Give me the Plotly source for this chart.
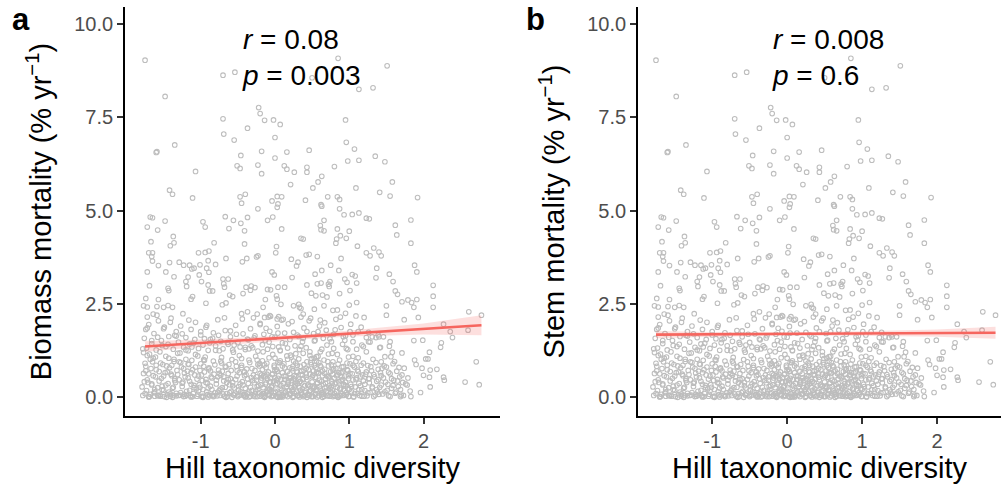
import plotly.graph_objects as go

# ---------------- data ----------------
# sparse upper cloud (same plots in both panels)
hill_upper = [-1.75,-1.48,-0.70,-0.54,-0.22,-0.20,-0.70,-0.37,-0.14,-0.02,0.07,-0.69,-0.55,0.00,-1.35,-1.60,-1.59,
              -0.46,-0.18,0.16,0.00,0.46,-1.07,-0.51,-0.47,-0.23,-0.18,0.125,0.16,0.26,0.43,0.43,0.21,-1.42,-1.38,
              -1.11,-0.47,-0.40,-0.45,-0.23,-0.04,0.03,0.09,0.04,0.03,0.41,
              0.85,1.51,0.50,1.13,1.32,0.95,0.96,1.07,0.98,1.13,1.35,1.48,0.80,0.63,0.58,0.51,1.58,1.09,0.71,0.84,
              0.87,1.41,1.55,1.92,0.62,0.87,
              0.63,0.93,1.04,1.13,1.23,1.27,1.83,0.66,0.61,0.62,0.66,0.84,1.00,0.88,0.83,0.82,0.96,1.62,1.64,1.83,
              1.11,1.33,1.40,1.43,1.23,1.28,0.57,0.89,0.75,0.63,0.86,0.54,1.37,1.36,1.54,1.59,1.88,1.91,0.94,1.04,
              1.08,0.97,1.10,0.57,0.62,0.74,0.72,0.73,0.49,0.55,0.64,0.70,0.87,1.01,1.10,1.62,1.65,1.71,1.79,1.84,
              1.91,1.87,2.13,2.13,2.13,1.50,1.50,1.20,1.74,1.93,2.61,2.78,
              -1.68,-1.65,-1.48,-1.72,-1.58,-1.37,-1.36,-1.41,-1.67,-1.70,-1.65,-1.66,-1.65,-1.57,-1.72,-1.42,-1.29,
              -1.23,-1.15,-1.12,-1.47,-1.36,-1.69,-1.44,-1.43,-1.74,-1.57,-1.77,-1.72,-1.59,-1.50,-1.44,-1.38,-1.72,
              -1.64,-1.59,-1.24,-1.19,-1.20,-1.17,-1.11,-1.13,-0.93,-1.09,-1.01,-1.03,-0.94,-0.89,-0.97,-0.94,-0.82,
              -0.67,-0.56,-0.46,-0.41,-0.37,-0.62,-0.10,-0.03,0.09,-0.41,0.02,0.01,-0.90,-0.92,-0.80,-0.66,-0.44,
              -0.38,-0.25,-0.23,-1.02,-0.99,-0.89,-0.70,-0.63,-0.69,-0.68,-0.90,-0.88,-0.84,-0.61,-0.57,-0.43,-0.39,
              -0.32,-0.33,-0.27,-0.71,-0.66,-0.45,-0.37,-0.14,-0.07,-0.06,0.02,0.03,0.08,-0.13,-0.10,-0.04,-0.01,
              0.04,0.13,0.22,0.31,0.29,0.23,0.25,0.32,0.43,0.35,0.38,0.42,0.46,-0.16,-0.06,-0.09,-0.24,-0.29,0.03,
              0.05,0.09,0.33,0.35,
              0.35,0.38,0.48,0.53,0.66,0.78,0.84,0.82,0.95,1.00,0.61]
mort_upper = [9.03,8.06,8.63,8.71,7.76,7.60,7.46,7.21,7.42,7.43,7.31,7.05,6.89,6.96,6.76,6.56,6.58,
              6.48,6.59,6.57,6.41,6.62,6.05,6.20,6.13,6.22,5.99,6.20,6.11,6.03,6.16,6.03,5.70,5.55,5.44,
              5.34,5.37,5.44,5.20,5.05,5.26,5.38,5.37,5.18,5.09,5.28,
              9.08,8.88,8.56,8.25,8.29,7.43,6.83,6.65,6.33,6.35,6.46,6.31,6.18,5.92,5.77,5.61,5.77,5.61,5.37,5.37,
              5.30,5.49,5.39,5.35,5.16,5.05,
              5.12,4.89,4.90,4.94,4.80,4.78,4.75,4.74,4.60,4.49,4.46,4.51,4.45,4.33,4.24,4.13,4.26,4.61,4.35,4.13,
              4.05,4.00,3.89,3.79,3.87,3.79,3.77,3.72,3.54,3.40,3.40,3.30,3.46,3.20,3.30,3.10,3.54,3.36,3.17,3.29,
              3.25,3.08,3.06,3.04,3.06,3.10,3.03,2.97,2.79,2.72,2.74,2.69,2.78,2.86,2.54,2.85,2.76,2.56,2.61,2.54,
              2.62,2.41,3.00,2.71,2.41,2.45,2.20,2.14,2.08,2.14,2.29,2.20,
              4.83,4.81,4.72,4.56,4.48,4.31,4.14,4.06,4.17,3.87,3.87,3.77,3.65,3.53,3.36,3.61,3.62,
              3.54,3.54,3.44,3.36,3.23,2.99,2.92,2.86,2.65,2.62,2.45,2.42,2.43,2.41,2.46,2.41,2.15,
              2.23,2.20,2.24,2.97,3.10,3.22,2.70,2.63,2.52,3.46,3.55,3.87,3.88,3.92,4.70,4.56,4.14,
              4.84,4.74,4.66,4.46,4.82,4.52,4.74,4.83,4.51,4.11,4.04,3.87,3.66,3.46,3.56,3.72,3.63,
              3.72,3.76,3.79,3.28,3.10,3.35,3.17,3.17,3.04,2.95,3.01,2.85,2.85,2.74,2.70,2.78,2.95,
              2.98,2.87,2.94,2.48,2.53,2.24,2.29,2.14,2.19,2.88,2.72,2.63,2.49,2.62,2.89,3.36,3.28,
              2.95,2.95,3.70,3.62,3.52,3.21,2.45,2.49,3.01,4.26,4.24,3.81,3.83,2.41,2.17,2.15,2.23,2.13,2.10,
              2.16,2.07,2.41,2.15,
              2.38,2.23,2.12,2.36,2.45,2.33,2.34,2.09,2.25,2.47,2.07]

# scattered right-hand points at low mortality
hill_right = [2.27,2.36,2.39,2.60,2.24,2.23,1.99,1.87,2.08,2.06,2.03,1.88,1.90,1.98,2.09,2.18,2.00,2.08,2.27,2.28,
              2.71,2.56,2.75,2.09,1.96,1.69,1.83,1.78,1.71,1.58,1.56,1.48,1.43,1.55,1.28,1.42,1.54,1.36,1.46,1.40]
mort_right = [1.96,1.76,1.60,1.80,1.46,1.34,1.53,1.52,1.21,1.03,1.03,1.00,0.88,0.78,0.73,0.75,0.59,0.54,0.54,0.46,
              0.95,0.41,0.34,0.28,0.13,0.02,0.02,0.33,1.19,1.21,1.09,1.09,0.95,1.49,1.48,1.34,1.37,1.60,1.62,1.62]

# middle band (about 1.2 - 2.2)
hill_mid = [-1.76,-1.73,-1.70,-1.66,-1.63,-1.60,-1.57,-1.53,-1.50,-1.47,-1.43,-1.40,-1.37,-1.33,-1.30,-1.27,-1.23,
            -1.20,-1.17,-1.13,-1.10,-1.07,-1.03,-1.00,-0.97,-0.93,-0.90,-0.87,-0.83,-0.80,-0.77,-0.73,-0.70,-0.67,
            -0.63,-0.60,-0.57,-0.53,-0.50,-0.47,-0.43,-0.40,-0.37,-0.33,-0.30,-0.27,-0.23,-0.20,-0.17,-0.13,-0.10,
            -0.07,-0.03,0.00,0.03,0.07,0.10,0.13,0.17,0.20,0.23,0.27,0.30,0.33,0.37,-1.72,-1.55,-1.35,-1.15,-0.95,
            -0.75,-0.55,-0.35,-0.15,0.05,
            0.43,0.52,0.58,0.69,0.79,0.89,0.92,1.01,1.05,1.12,1.26,1.31,1.39,1.26,1.17,1.05,0.94,0.76,0.65,0.54,
            0.38,0.47,0.61,0.79,0.96,1.10,1.23,1.41,
            -1.78,-1.61,-1.44,-1.28,-1.12,-0.96,-0.80,-0.64,-0.48,-0.32,-0.16,0.00,0.14,0.28,0.42,0.56,0.70,0.84,0.98,1.12,
            -1.69,-1.52,-1.36,-1.20,-1.04,-0.88,-0.72,-0.56,-0.40,-0.24,-0.08,0.07,0.21,0.35,0.49,0.63,0.77,0.91,1.05,1.19,
            -1.74,-1.58,-1.41,-1.25,-1.08,-0.92,-0.76,-0.60,-0.44,-0.28,-0.12,0.04,0.18,0.32,0.46,0.60,0.74,0.88,1.02,1.16,
            -1.66,-1.49,-1.33,-1.16,-1.00,-0.84,-0.68,-0.52,-0.36,-0.20,-0.04,0.11,0.25,0.39,0.53,0.67,0.81,0.95,1.09,1.23]
mort_mid = [1.58,1.32,1.95,1.44,1.71,1.27,2.05,1.52,1.84,1.36,1.63,2.12,1.29,1.76,1.48,1.91,1.34,
            1.60,1.25,1.82,1.45,2.01,1.31,1.67,1.40,1.88,1.26,1.55,1.73,1.38,2.08,1.50,1.30,1.79,
            1.42,1.62,1.27,1.93,1.47,1.35,1.70,1.28,1.56,1.84,1.33,1.65,1.24,1.98,1.41,1.52,1.29,
            1.77,1.36,1.61,1.90,1.26,1.46,1.72,1.32,1.55,2.03,1.38,1.67,1.28,1.49,1.86,1.22,1.66,1.43,1.57,
            1.25,1.40,1.30,1.69,1.35,
            1.76,1.71,1.76,1.80,1.69,1.87,1.62,1.76,1.67,1.76,1.74,1.62,1.67,1.49,1.40,1.49,1.53,1.49,1.58,1.53,
            1.58,1.22,1.22,1.31,1.31,1.29,1.22,1.33,
            1.30,1.08,1.42,1.19,1.35,1.01,1.26,1.47,1.12,1.38,1.22,1.05,1.44,1.17,1.33,1.09,1.40,1.15,1.28,1.06,
            1.16,1.39,1.02,1.27,1.11,1.46,1.07,1.21,1.34,1.00,1.48,1.25,1.13,1.37,1.04,1.29,1.18,1.42,1.10,1.36,
            1.82,1.61,2.01,1.70,1.55,1.93,1.66,1.78,2.10,1.59,1.85,1.72,1.97,1.63,2.05,1.91,1.57,2.15,1.96,1.88,
            1.52,1.88,1.64,2.07,1.76,1.58,2.13,1.69,1.54,1.95,1.62,2.09,1.74,1.86,1.51,2.00,1.81,1.65,2.18,1.60]

# dense lower cloud (below about 1.2)
hill_low = [-1.78,-1.76,-1.75,-1.73,-1.72,-1.70,-1.69,-1.67,-1.66,-1.64,-1.63,-1.61,-1.60,-1.58,-1.57,-1.56,-1.77,-1.74,-1.71,-1.68,-1.65,-1.62,
            -1.54,-1.53,-1.51,-1.50,-1.48,-1.47,-1.45,-1.44,-1.42,-1.41,-1.39,-1.38,-1.36,-1.35,-1.33,-1.32,-1.31,-1.52,-1.49,-1.46,-1.43,-1.40,-1.37,-1.34,
            -1.29,-1.28,-1.26,-1.25,-1.23,-1.22,-1.20,-1.19,-1.17,-1.16,-1.14,-1.13,-1.11,-1.10,-1.08,-1.07,-1.06,-1.27,-1.24,-1.21,-1.18,-1.15,-1.12,-1.09,
            -1.04,-1.03,-1.01,-1.00,-0.98,-0.97,-0.95,-0.94,-0.92,-0.91,-0.89,-0.88,-0.86,-0.85,-0.83,-0.82,-0.81,-1.02,-0.99,-0.96,-0.93,-0.90,-0.87,-0.84,
            -0.79,-0.78,-0.76,-0.75,-0.73,-0.72,-0.70,-0.69,-0.67,-0.66,-0.64,-0.63,-0.61,-0.60,-0.58,-0.57,-0.56,-0.77,-0.74,-0.71,-0.68,-0.65,-0.62,-0.59,
            -0.54,-0.53,-0.52,-0.50,-0.49,-0.48,-0.46,-0.45,-0.44,-0.42,-0.41,-0.40,-0.38,-0.37,-0.36,-0.34,-0.33,-0.32,-0.31,-0.51,-0.47,-0.43,-0.39,-0.35,-0.30,-0.55,-0.45,-0.40,
            -0.29,-0.28,-0.27,-0.26,-0.25,-0.24,-0.23,-0.22,-0.21,-0.20,-0.19,-0.18,-0.17,-0.16,-0.15,-0.14,-0.13,-0.12,-0.11,-0.10,-0.09,-0.08,-0.07,-0.06,-0.26,-0.21,-0.16,-0.11,-0.24,-0.18,
            -0.05,-0.04,-0.03,-0.02,-0.01,0.00,0.01,0.02,0.03,0.04,0.05,0.06,0.07,0.08,0.09,0.10,0.11,0.12,0.13,0.14,0.15,0.16,0.17,0.18,0.19,0.20,-0.03,0.02,0.07,0.12,0.17,0.00,
            0.21,0.22,0.23,0.24,0.25,0.26,0.27,0.28,0.29,0.30,0.31,0.32,0.33,0.34,0.35,0.36,0.37,0.38,0.39,0.40,0.41,0.42,0.43,0.44,0.22,0.26,0.30,0.34,0.38,0.42,0.25,0.33,
            0.45,0.46,0.47,0.48,0.49,0.50,0.51,0.52,0.53,0.54,0.55,0.56,0.57,0.58,0.59,0.60,0.61,0.62,0.63,0.64,0.65,0.66,0.67,0.68,0.69,0.47,0.51,0.55,0.59,0.63,0.67,0.53,
            0.70,0.71,0.72,0.73,0.74,0.75,0.76,0.77,0.78,0.79,0.80,0.81,0.82,0.83,0.84,0.85,0.86,0.87,0.88,0.89,0.90,0.91,0.92,0.93,0.94,0.72,0.78,0.84,0.90,0.76,
            0.95,0.96,0.97,0.98,0.99,1.00,1.01,1.02,1.03,1.04,1.05,1.06,1.07,1.08,1.10,1.11,1.12,1.13,1.14,1.16,1.17,1.18,1.19,0.99,1.09,1.15,
            1.21,1.22,1.24,1.25,1.27,1.28,1.30,1.31,1.33,1.34,1.36,1.37,1.39,1.40,1.42,1.43,1.44,1.26,1.32,1.38,
            1.46,1.48,1.50,1.52,1.53,1.55,1.57,1.59,1.60,1.62,1.64,1.66,1.68,1.70,1.72,1.74]
mort_low = [0.05,0.42,0.91,0.18,1.12,0.63,0.02,0.77,0.33,1.05,0.12,0.55,0.86,0.26,0.04,0.69,1.20,0.71,0.40,0.08,0.95,0.21,
            0.03,0.51,0.88,0.19,0.66,1.10,0.07,0.37,0.79,0.03,0.58,0.24,0.96,0.45,0.11,0.72,1.18,0.30,0.02,0.84,0.14,0.62,0.05,0.40,
            0.47,0.06,0.81,0.29,0.02,0.65,1.02,0.16,0.52,0.88,0.04,0.35,0.74,0.10,0.60,1.15,0.23,0.93,0.41,0.03,0.70,0.19,0.99,0.32,
            0.08,0.57,0.27,0.90,0.45,0.03,0.68,1.08,0.15,0.38,0.79,0.05,0.55,0.21,0.97,0.62,0.12,0.34,0.02,0.83,0.48,0.25,0.71,0.06,
            0.36,0.04,0.73,0.18,0.59,0.92,0.09,0.44,0.27,0.81,0.02,0.64,0.13,0.50,1.01,0.31,0.07,0.55,0.22,0.70,0.03,0.40,0.88,0.16,
            0.11,0.48,0.83,0.02,0.29,0.66,0.15,1.04,0.42,0.05,0.58,0.24,0.76,0.09,0.37,0.93,0.03,0.53,0.19,0.71,0.06,0.33,0.61,0.14,0.45,0.25,0.80,0.01,
            0.04,0.39,0.72,0.17,0.55,0.02,0.88,0.31,0.12,0.64,0.46,0.07,0.98,0.26,0.58,0.03,0.35,0.80,0.14,0.49,0.68,0.05,0.22,0.41,1.10,0.84,0.10,0.62,0.29,0.52,
            0.27,0.61,0.05,0.43,0.86,0.16,0.34,0.02,0.70,0.51,0.09,0.93,0.24,0.47,0.03,0.66,0.38,0.12,0.79,0.56,0.06,0.29,1.02,0.44,0.18,0.63,1.15,0.75,0.01,0.90,0.35,0.52,
            0.08,0.45,0.77,0.21,0.03,0.58,0.36,0.92,0.14,0.67,0.04,0.49,0.26,0.83,0.11,0.39,0.60,0.02,0.73,0.31,0.17,0.54,0.95,0.07,1.08,0.28,0.86,0.43,1.18,0.63,0.50,0.01,
            0.33,0.05,0.62,0.19,0.88,0.41,0.02,0.71,0.27,0.54,0.10,0.97,0.37,0.64,0.04,0.46,0.22,0.81,0.13,0.58,0.35,0.03,0.75,0.49,0.16,1.12,0.30,0.79,0.93,0.07,0.25,1.05,
            0.57,0.12,0.84,0.31,0.03,0.69,0.44,0.20,0.95,0.06,0.52,0.36,0.77,0.15,0.61,0.02,0.42,1.00,0.25,0.66,0.09,0.48,0.82,0.34,0.18,1.16,0.73,0.05,0.55,0.28,
            0.41,0.07,0.74,0.23,0.58,0.03,0.90,0.35,0.15,0.63,0.47,0.02,0.81,0.28,0.52,0.11,0.69,0.38,0.05,0.86,0.21,0.60,0.44,1.08,0.96,0.31,
            0.18,0.62,0.04,0.85,0.39,0.13,0.71,0.28,0.02,0.55,0.93,0.21,0.47,0.08,0.66,0.33,0.78,0.50,1.02,0.14,
            0.52,0.15,0.81,0.35,0.04,0.63,0.24,0.90,0.46,0.11,0.70,0.29,0.55,0.06,0.40,0.78]

# more of the dense lower cloud
hill_low2 = [-1.79,-1.77,-1.75,-1.74,-1.72,-1.70,-1.68,-1.66,-1.64,-1.62,-1.60,-1.58,-1.56,-1.54,-1.52,-1.50,-1.47,-1.45,-1.43,-1.41,
             -1.39,-1.37,-1.35,-1.33,-1.31,-1.29,-1.27,-1.25,-1.23,-1.21,-1.19,-1.17,-1.15,-1.13,-1.11,-1.09,-1.07,-1.05,-1.03,-1.01,
             -0.99,-0.97,-0.95,-0.93,-0.91,-0.89,-0.87,-0.85,-0.83,-0.81,-0.79,-0.77,-0.75,-0.73,-0.71,-0.69,-0.67,-0.65,-0.63,-0.61,
             -0.59,-0.57,-0.55,-0.53,-0.51,-0.49,-0.47,-0.45,-0.43,-0.41,-0.39,-0.37,-0.35,-0.33,-0.31,-0.29,-0.27,-0.25,-0.23,-0.21,
             -0.19,-0.17,-0.15,-0.13,-0.11,-0.09,-0.07,-0.05,-0.03,-0.01,0.01,0.03,0.05,0.07,0.09,0.11,0.13,0.15,0.17,0.19,
             -0.18,-0.16,-0.14,-0.12,-0.10,-0.08,-0.06,-0.04,-0.02,0.00,0.02,0.04,0.06,0.08,0.10,0.12,0.14,0.16,0.18,0.20,
             0.21,0.23,0.25,0.27,0.29,0.31,0.33,0.35,0.37,0.39,0.41,0.43,0.45,0.47,0.49,0.51,0.53,0.55,0.57,0.59,
             0.22,0.24,0.26,0.28,0.30,0.32,0.34,0.36,0.38,0.40,0.42,0.44,0.46,0.48,0.50,0.52,0.54,0.56,0.58,0.60,
             0.61,0.63,0.65,0.67,0.69,0.71,0.73,0.75,0.77,0.79,0.81,0.83,0.85,0.87,0.89,0.91,0.93,0.95,0.97,0.99,
             0.62,0.64,0.66,0.68,0.70,0.72,0.74,0.76,0.78,0.80,0.82,0.84,0.86,0.88,0.90,0.92,0.94,0.96,0.98,1.00,
             1.01,1.03,1.05,1.07,1.09,1.11,1.13,1.15,1.17,1.19,1.21,1.23,1.25,1.27,1.29,1.31,1.33,1.35,1.37,1.39,
             1.41,1.43,1.45,1.47,1.49,1.51,1.53,1.55,1.57,1.59,1.61,1.63,1.65,1.67,1.69,1.71,1.73,1.76,1.79,1.82,
             -1.70,-1.55,-1.38,-1.22,-1.05,-0.90,-0.74,-0.58,-0.42,-0.27,-0.14,-0.02,0.10,0.24,0.36,0.50,0.64,0.78,0.92,1.06,
             -1.62,-1.46,-1.30,-1.13,-0.97,-0.82,-0.66,-0.50,-0.35,-0.20,-0.08,0.04,0.17,0.30,0.43,0.57,0.71,0.85,0.99,1.20]
mort_low2 = [0.28,0.64,0.10,0.83,0.47,0.02,1.02,0.36,0.58,0.15,0.74,0.05,0.44,0.92,0.20,0.57,0.33,0.68,1.05,0.09,
             0.86,0.27,0.50,0.04,0.61,0.95,0.13,0.38,0.77,0.55,0.06,0.89,0.43,0.66,0.02,0.26,0.81,0.49,0.17,0.72,
             0.60,0.21,0.99,0.40,0.07,0.76,0.30,0.52,0.02,0.87,0.46,0.14,0.64,0.97,0.26,0.55,0.83,0.10,0.48,0.34,
             0.72,0.40,0.06,0.95,0.57,0.20,0.36,0.86,0.12,0.68,0.03,0.50,1.00,0.27,0.77,0.60,0.09,0.46,0.21,0.91,
             0.33,0.74,0.10,0.55,0.91,0.22,0.42,0.02,0.63,0.81,0.13,0.37,0.58,0.98,0.19,0.06,0.48,0.27,0.69,0.09,
             0.60,0.04,0.87,0.39,0.17,1.06,0.53,0.30,0.12,0.72,0.46,0.93,0.03,0.32,0.84,0.57,0.14,1.11,0.40,0.79,
             0.52,0.16,0.97,0.32,0.70,0.05,0.42,0.61,0.23,0.88,0.12,0.47,0.74,0.30,0.02,0.59,0.85,0.18,0.40,0.66,
             0.26,0.83,0.11,0.55,0.38,1.03,0.19,0.70,0.49,0.04,0.78,0.33,0.15,0.93,0.55,0.24,0.07,0.67,1.10,0.29,
             0.85,0.43,0.09,0.64,0.28,0.96,0.52,0.14,0.37,0.76,0.03,0.58,0.89,0.22,0.45,0.68,0.06,0.31,0.92,0.50,
             0.17,0.71,1.00,0.38,0.05,0.56,0.24,0.87,0.62,0.11,0.40,0.27,0.66,0.04,0.81,0.35,0.57,0.13,0.72,0.21,
             0.64,0.29,0.86,0.10,0.48,0.73,0.20,0.55,0.03,0.92,0.35,0.68,0.12,0.50,0.82,0.25,0.61,0.06,0.43,0.75,
             0.27,0.58,0.09,0.84,0.41,0.19,0.67,0.02,0.50,0.32,0.96,0.14,0.44,0.80,0.21,0.60,0.05,0.36,0.52,0.17,
             0.01,0.06,0.00,0.08,0.03,0.01,0.05,0.00,0.07,0.02,0.00,0.04,0.01,0.00,0.06,0.03,0.00,0.02,0.05,0.01,
             0.03,0.00,0.05,0.01,0.00,0.04,0.00,0.06,0.01,0.03,0.08,0.00,0.02,0.05,0.00,0.01,0.04,0.00,0.02,0.03]

# fitted lines and confidence bands
fit_x = [-1.75, 2.78]
fit_a = [1.36, 1.93]
fit_b = [1.68, 1.73]
band_x = [-1.75, -1.0, 0.0, 0.5, 1.0, 2.0, 2.78]
band_a_lo = [1.22, 1.35, 1.50, 1.57, 1.63, 1.68, 1.66]
band_a_hi = [1.50, 1.55, 1.64, 1.70, 1.79, 1.98, 2.20]
band_b_lo = [1.58, 1.62, 1.65, 1.66, 1.65, 1.62, 1.57]
band_b_hi = [1.78, 1.75, 1.74, 1.75, 1.77, 1.82, 1.89]

x_ticks = [-1, 0, 1, 2]
x_tick_labels = ["-1", "0", "1", "2"]
y_ticks = [0, 2.5, 5, 7.5, 10]
y_tick_labels = ["0.0", "2.5", "5.0", "7.5", "10.0"]

hill = hill_upper + hill_right + hill_mid + hill_low + hill_low2
mort = mort_upper + mort_right + mort_mid + mort_low + mort_low2

# ---------------- figure ----------------
W, H = 1001, 492
MT, MB = 7, 76
PH = H - MT - MB
FONT = "Liberation Sans, Arial, sans-serif"
PT_COL = "#bdbdbd"
LINE_COL = "#F6665F"
BAND_COL = "rgba(248,110,105,0.22)"

def px(x):
    return x / W

def py(y):
    return 1 - (y - MT) / PH

fig = go.Figure()
for xa, ya, fit, lo, hi in [("x", "y", fit_a, band_a_lo, band_a_hi),
                            ("x2", "y2", fit_b, band_b_lo, band_b_hi)]:
    fig.add_trace(go.Scatter(x=hill, y=mort, mode="markers", xaxis=xa, yaxis=ya,
                             marker=dict(symbol="circle-open", size=4.6, color=PT_COL,
                                         line=dict(width=1.1, color=PT_COL)),
                             showlegend=False, hoverinfo="skip"))
    fig.add_trace(go.Scatter(x=band_x + band_x[::-1], y=hi + lo[::-1], xaxis=xa, yaxis=ya,
                             mode="lines", fill="toself", fillcolor=BAND_COL,
                             line=dict(width=0), showlegend=False, hoverinfo="skip"))
    fig.add_trace(go.Scatter(x=fit_x, y=fit, xaxis=xa, yaxis=ya, mode="lines",
                             line=dict(color=LINE_COL, width=2.6), showlegend=False))

axis_common = dict(showgrid=False, zeroline=False, showline=True, linecolor="black", linewidth=1.8,
                   ticks="outside", ticklen=6, tickwidth=1.5, tickcolor="#333333",
                   tickfont=dict(family=FONT, size=20, color="#4d4d4d"))
title_font = dict(family=FONT, size=29, color="black")

fig.update_layout(
    width=W, height=H, plot_bgcolor="white", paper_bgcolor="white",
    margin=dict(l=0, r=0, t=MT, b=MB, autoexpand=False),
    xaxis=dict(domain=[px(125), px(500)], range=[-2.02, 3.03], tickvals=x_ticks, ticktext=x_tick_labels,
               anchor="y", title=dict(text="Hill taxonomic diversity", font=title_font, standoff=6),
               **axis_common),
    yaxis=dict(domain=[0, 1], range=[-0.50, 10.455], tickvals=y_ticks, ticktext=y_tick_labels, anchor="x",
               title=dict(text="Biomass mortality (% yr<sup>−1</sup>)", font=title_font, standoff=14),
               **axis_common),
    xaxis2=dict(domain=[px(638), 1.0], range=[-1.99, 2.853], tickvals=x_ticks, ticktext=x_tick_labels,
                anchor="y2", title=dict(text="Hill taxonomic diversity", font=title_font, standoff=6),
                **axis_common),
    yaxis2=dict(domain=[0, 1], range=[-0.50, 10.455], tickvals=y_ticks, ticktext=y_tick_labels, anchor="x2",
                title=dict(text="Stem mortality (% yr<sup>−1</sup>)", font=title_font, standoff=14),
                **axis_common),
)

ann_font = dict(family=FONT, size=28, color="black")
fig.add_annotation(xref="paper", yref="paper", x=px(240), y=py(22), xanchor="left", yanchor="top",
                   text="<i>r</i> = 0.08<br><i>p</i> = 0.003", align="left", showarrow=False, font=ann_font)
fig.add_annotation(xref="paper", yref="paper", x=px(770), y=py(22), xanchor="left", yanchor="top",
                   text="<i>r</i> = 0.008<br><i>p</i> = 0.6", align="left", showarrow=False, font=ann_font)
letter_font = dict(family=FONT, size=31, color="black")
fig.add_annotation(xref="paper", yref="paper", x=px(10), y=py(0), xanchor="left", yanchor="top",
                   text="<b>a</b>", showarrow=False, font=letter_font)
fig.add_annotation(xref="paper", yref="paper", x=px(524), y=py(0), xanchor="left", yanchor="top",
                   text="<b>b</b>", showarrow=False, font=letter_font)

fig.write_html("out.html")
